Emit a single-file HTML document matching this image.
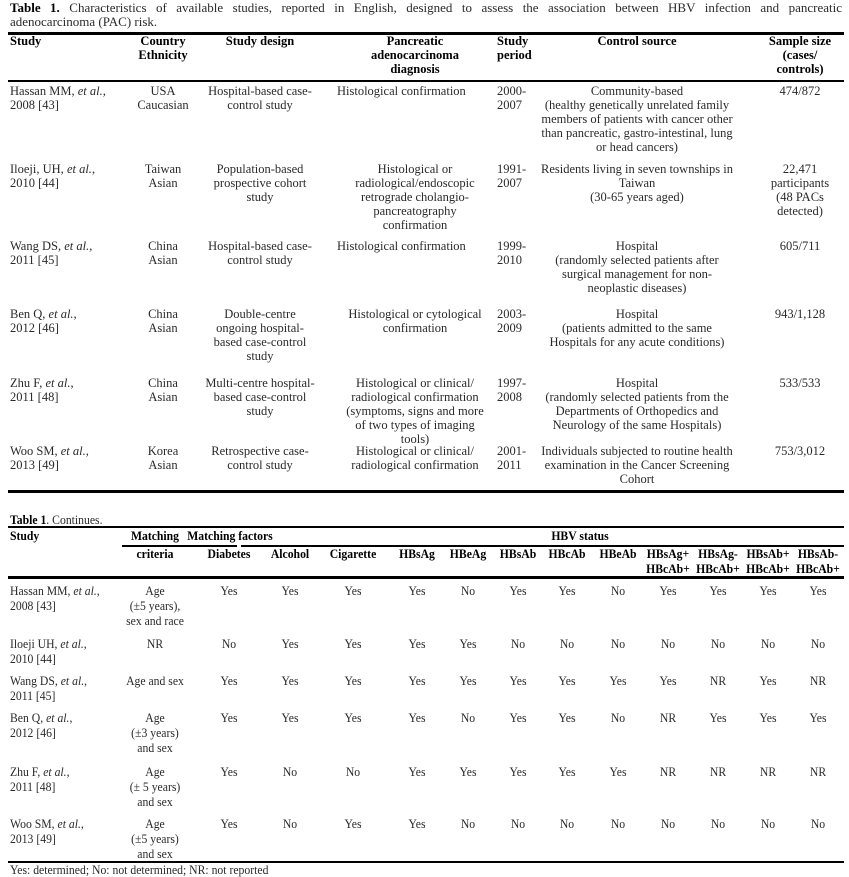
<!DOCTYPE html>
<html><head><meta charset="utf-8"><style>
body{margin:0;width:849px;height:876px;background:#fff;position:relative;overflow:hidden;font-family:"Liberation Serif",serif;color:#2a2a2a}
div{position:absolute;white-space:nowrap}
.t1{font-size:12.5px;line-height:14px}
.t2{font-size:13px;line-height:15px}
.b{font-weight:bold;color:#000}
.c{text-align:center}
.t2.c{transform:scaleX(.9);transform-origin:center}
.t2.l{transform:scaleX(.9);transform-origin:left}
.hr{background:#000;height:2px}
</style></head><body>
<div style="left:10px;top:1px;width:832px;font-size:13px;line-height:14px;white-space:normal;text-align:justify;text-align-last:justify"><b style="color:#000">Table 1.</b> Characteristics of available studies, reported in English, designed to assess the association between HBV infection and pancreatic</div>
<div style="left:10px;top:15px;font-size:13px;line-height:14px">adenocarcinoma (PAC) risk.</div>
<div class="hr" style="left:8px;top:32px;width:836px;height:3px"></div>
<div class="hr" style="left:8px;top:80px;width:836px"></div>
<div class="hr" style="left:8px;top:490px;width:836px;height:3px"></div>

<div class="t1 b" style="left:10px;top:34px">Study</div>
<div class="t1 b c" style="left:113px;width:100px;top:34px">Country<br>Ethnicity</div>
<div class="t1 b c" style="left:195px;width:130px;top:34px">Study design</div>
<div class="t1 b c" style="left:340px;width:150px;top:34px">Pancreatic<br>adenocarcinoma<br>diagnosis</div>
<div class="t1 b" style="left:497px;top:34px">Study<br>period</div>
<div class="t1 b c" style="left:537px;width:200px;top:34px">Control source</div>
<div class="t1 b c" style="left:750px;width:100px;top:34px">Sample size<br>(cases/<br>controls)</div>

<div class="t1" style="left:10px;top:84px">Hassan MM, <i>et al.</i>,<br>2008 [43]</div>
<div class="t1 c" style="left:113px;width:100px;top:84px">USA<br>Caucasian</div>
<div class="t1 c" style="left:195px;width:130px;top:84px">Hospital-based case-<br>control study</div>
<div class="t1" style="left:337px;top:84px">Histological confirmation</div>
<div class="t1" style="left:497px;top:84px">2000-<br>2007</div>
<div class="t1 c" style="left:527px;width:220px;top:84px">Community-based<br>(healthy genetically unrelated family<br>members of patients with cancer other<br>than pancreatic, gastro-intestinal, lung<br>or head cancers)</div>
<div class="t1 c" style="left:750px;width:100px;top:84px">474/872</div>

<div class="t1" style="left:10px;top:162px">Iloeji, UH, <i>et al.</i>,<br>2010 [44]</div>
<div class="t1 c" style="left:113px;width:100px;top:162px">Taiwan<br>Asian</div>
<div class="t1 c" style="left:195px;width:130px;top:162px">Population-based<br>prospective cohort<br>study</div>
<div class="t1 c" style="left:335px;width:160px;top:162px">Histological or<br>radiological/endoscopic<br>retrograde cholangio-<br>pancreatography<br>confirmation</div>
<div class="t1" style="left:497px;top:162px">1991-<br>2007</div>
<div class="t1 c" style="left:527px;width:220px;top:162px">Residents living in seven townships in<br>Taiwan<br>(30-65 years aged)</div>
<div class="t1 c" style="left:750px;width:100px;top:162px">22,471<br>participants<br>(48 PACs<br>detected)</div>

<div class="t1" style="left:10px;top:239px">Wang DS, <i>et al.</i>,<br>2011 [45]</div>
<div class="t1 c" style="left:113px;width:100px;top:239px">China<br>Asian</div>
<div class="t1 c" style="left:195px;width:130px;top:239px">Hospital-based case-<br>control study</div>
<div class="t1" style="left:337px;top:239px">Histological confirmation</div>
<div class="t1" style="left:497px;top:239px">1999-<br>2010</div>
<div class="t1 c" style="left:527px;width:220px;top:239px">Hospital<br>(randomly selected patients after<br>surgical management for non-<br>neoplastic diseases)</div>
<div class="t1 c" style="left:750px;width:100px;top:239px">605/711</div>

<div class="t1" style="left:10px;top:307px">Ben Q, <i>et al.</i>,<br>2012 [46]</div>
<div class="t1 c" style="left:113px;width:100px;top:307px">China<br>Asian</div>
<div class="t1 c" style="left:195px;width:130px;top:307px">Double-centre<br>ongoing hospital-<br>based case-control<br>study</div>
<div class="t1 c" style="left:335px;width:160px;top:307px">Histological or cytological<br>confirmation</div>
<div class="t1" style="left:497px;top:307px">2003-<br>2009</div>
<div class="t1 c" style="left:527px;width:220px;top:307px">Hospital<br>(patients admitted to the same<br>Hospitals for any acute conditions)</div>
<div class="t1 c" style="left:750px;width:100px;top:307px">943/1,128</div>

<div class="t1" style="left:10px;top:376px">Zhu F, <i>et al.</i>,<br>2011 [48]</div>
<div class="t1 c" style="left:113px;width:100px;top:376px">China<br>Asian</div>
<div class="t1 c" style="left:195px;width:130px;top:376px">Multi-centre hospital-<br>based case-control<br>study</div>
<div class="t1 c" style="left:335px;width:160px;top:376px">Histological or clinical/<br>radiological confirmation<br>(symptoms, signs and more<br>of two types of imaging<br>tools)</div>
<div class="t1" style="left:497px;top:376px">1997-<br>2008</div>
<div class="t1 c" style="left:527px;width:220px;top:376px">Hospital<br>(randomly selected patients from the<br>Departments of Orthopedics and<br>Neurology of the same Hospitals)</div>
<div class="t1 c" style="left:750px;width:100px;top:376px">533/533</div>

<div class="t1" style="left:10px;top:444px">Woo SM, <i>et al.</i>,<br>2013 [49]</div>
<div class="t1 c" style="left:113px;width:100px;top:444px">Korea<br>Asian</div>
<div class="t1 c" style="left:195px;width:130px;top:444px">Retrospective case-<br>control study</div>
<div class="t1 c" style="left:335px;width:160px;top:444px">Histological or clinical/<br>radiological confirmation</div>
<div class="t1" style="left:497px;top:444px">2001-<br>2011</div>
<div class="t1 c" style="left:527px;width:220px;top:444px">Individuals subjected to routine health<br>examination in the Cancer Screening<br>Cohort</div>
<div class="t1 c" style="left:750px;width:100px;top:444px">753/3,012</div>

<div class="t2 l" style="left:10px;top:512px"><b style="color:#000">Table 1</b>. Continues.</div>
<div class="hr" style="left:8px;top:526px;width:836px"></div>
<div class="hr" style="left:122px;top:545px;width:115px;height:1.5px"></div>
<div class="hr" style="left:241px;top:545px;width:603px;height:1.5px"></div>
<div class="hr" style="left:8px;top:576px;width:836px;height:3px"></div>
<div class="hr" style="left:8px;top:861px;width:836px;height:1.5px"></div>

<div class="t2 b l" style="left:10px;top:528px">Study</div>
<div class="t2 b c" style="left:105px;width:100px;top:528px">Matching</div>
<div class="t2 b c" style="left:105px;width:100px;top:546px">criteria</div>
<div class="t2 b c" style="left:130px;width:200px;top:528px">Matching factors</div>
<div class="t2 b c" style="left:480px;width:200px;top:528px">HBV status</div>
<div class="t2 b c" style="left:194px;width:70px;top:546px">Diabetes</div>
<div class="t2 b c" style="left:255px;width:70px;top:546px">Alcohol</div>
<div class="t2 b c" style="left:313px;width:80px;top:546px">Cigarette</div>
<div class="t2 b c" style="left:387px;width:60px;top:546px">HBsAg</div>
<div class="t2 b c" style="left:438px;width:60px;top:546px">HBeAg</div>
<div class="t2 b c" style="left:488px;width:60px;top:546px">HBsAb</div>
<div class="t2 b c" style="left:537px;width:60px;top:546px">HBcAb</div>
<div class="t2 b c" style="left:588px;width:60px;top:546px">HBeAb</div>
<div class="t2 b c" style="left:638px;width:60px;top:546px">HBsAg+<br>HBcAb+</div>
<div class="t2 b c" style="left:688px;width:60px;top:546px">HBsAg-<br>HBcAb+</div>
<div class="t2 b c" style="left:738px;width:60px;top:546px">HBsAb+<br>HBcAb+</div>
<div class="t2 b c" style="left:788px;width:60px;top:546px">HBsAb-<br>HBcAb+</div>

<div class="t2 l" style="left:10px;top:583px">Hassan MM, <i>et al.</i>,<br>2008 [43]</div>
<div class="t2 c" style="left:105px;width:100px;top:583px">Age<br>(±5 years),<br>sex and race</div>
<div class="t2 l" style="left:10px;top:636px">Iloeji UH, <i>et al.</i>,<br>2010 [44]</div>
<div class="t2 c" style="left:105px;width:100px;top:636px">NR</div>
<div class="t2 l" style="left:10px;top:673px">Wang DS, <i>et al.</i>,<br>2011 [45]</div>
<div class="t2 c" style="left:105px;width:100px;top:673px">Age and sex</div>
<div class="t2 l" style="left:10px;top:710px">Ben Q, <i>et al.</i>,<br>2012 [46]</div>
<div class="t2 c" style="left:105px;width:100px;top:710px">Age<br>(±3 years)<br>and sex</div>
<div class="t2 l" style="left:10px;top:764px">Zhu F, <i>et al.</i>,<br>2011 [48]</div>
<div class="t2 c" style="left:105px;width:100px;top:764px">Age<br>(± 5 years)<br>and sex</div>
<div class="t2 l" style="left:10px;top:816px">Woo SM, <i>et al.</i>,<br>2013 [49]</div>
<div class="t2 c" style="left:105px;width:100px;top:816px">Age<br>(±5 years)<br>and sex</div>

<div class="t2 c" style="left:199px;width:60px;top:583px">Yes</div><div class="t2 c" style="left:260px;width:60px;top:583px">Yes</div><div class="t2 c" style="left:323px;width:60px;top:583px">Yes</div><div class="t2 c" style="left:387px;width:60px;top:583px">Yes</div><div class="t2 c" style="left:438px;width:60px;top:583px">No</div><div class="t2 c" style="left:488px;width:60px;top:583px">Yes</div><div class="t2 c" style="left:537px;width:60px;top:583px">Yes</div><div class="t2 c" style="left:588px;width:60px;top:583px">No</div><div class="t2 c" style="left:638px;width:60px;top:583px">Yes</div><div class="t2 c" style="left:688px;width:60px;top:583px">Yes</div><div class="t2 c" style="left:738px;width:60px;top:583px">Yes</div><div class="t2 c" style="left:788px;width:60px;top:583px">Yes</div>

<div class="t2 c" style="left:199px;width:60px;top:636px">No</div><div class="t2 c" style="left:260px;width:60px;top:636px">Yes</div><div class="t2 c" style="left:323px;width:60px;top:636px">Yes</div><div class="t2 c" style="left:387px;width:60px;top:636px">Yes</div><div class="t2 c" style="left:438px;width:60px;top:636px">Yes</div><div class="t2 c" style="left:488px;width:60px;top:636px">No</div><div class="t2 c" style="left:537px;width:60px;top:636px">No</div><div class="t2 c" style="left:588px;width:60px;top:636px">No</div><div class="t2 c" style="left:638px;width:60px;top:636px">No</div><div class="t2 c" style="left:688px;width:60px;top:636px">No</div><div class="t2 c" style="left:738px;width:60px;top:636px">No</div><div class="t2 c" style="left:788px;width:60px;top:636px">No</div>

<div class="t2 c" style="left:199px;width:60px;top:673px">Yes</div><div class="t2 c" style="left:260px;width:60px;top:673px">Yes</div><div class="t2 c" style="left:323px;width:60px;top:673px">Yes</div><div class="t2 c" style="left:387px;width:60px;top:673px">Yes</div><div class="t2 c" style="left:438px;width:60px;top:673px">Yes</div><div class="t2 c" style="left:488px;width:60px;top:673px">Yes</div><div class="t2 c" style="left:537px;width:60px;top:673px">Yes</div><div class="t2 c" style="left:588px;width:60px;top:673px">Yes</div><div class="t2 c" style="left:638px;width:60px;top:673px">Yes</div><div class="t2 c" style="left:688px;width:60px;top:673px">NR</div><div class="t2 c" style="left:738px;width:60px;top:673px">Yes</div><div class="t2 c" style="left:788px;width:60px;top:673px">NR</div>

<div class="t2 c" style="left:199px;width:60px;top:710px">Yes</div><div class="t2 c" style="left:260px;width:60px;top:710px">Yes</div><div class="t2 c" style="left:323px;width:60px;top:710px">Yes</div><div class="t2 c" style="left:387px;width:60px;top:710px">Yes</div><div class="t2 c" style="left:438px;width:60px;top:710px">No</div><div class="t2 c" style="left:488px;width:60px;top:710px">Yes</div><div class="t2 c" style="left:537px;width:60px;top:710px">Yes</div><div class="t2 c" style="left:588px;width:60px;top:710px">No</div><div class="t2 c" style="left:638px;width:60px;top:710px">NR</div><div class="t2 c" style="left:688px;width:60px;top:710px">Yes</div><div class="t2 c" style="left:738px;width:60px;top:710px">Yes</div><div class="t2 c" style="left:788px;width:60px;top:710px">Yes</div>

<div class="t2 c" style="left:199px;width:60px;top:764px">Yes</div><div class="t2 c" style="left:260px;width:60px;top:764px">No</div><div class="t2 c" style="left:323px;width:60px;top:764px">No</div><div class="t2 c" style="left:387px;width:60px;top:764px">Yes</div><div class="t2 c" style="left:438px;width:60px;top:764px">Yes</div><div class="t2 c" style="left:488px;width:60px;top:764px">Yes</div><div class="t2 c" style="left:537px;width:60px;top:764px">Yes</div><div class="t2 c" style="left:588px;width:60px;top:764px">Yes</div><div class="t2 c" style="left:638px;width:60px;top:764px">NR</div><div class="t2 c" style="left:688px;width:60px;top:764px">NR</div><div class="t2 c" style="left:738px;width:60px;top:764px">NR</div><div class="t2 c" style="left:788px;width:60px;top:764px">NR</div>

<div class="t2 c" style="left:199px;width:60px;top:816px">Yes</div><div class="t2 c" style="left:260px;width:60px;top:816px">No</div><div class="t2 c" style="left:323px;width:60px;top:816px">Yes</div><div class="t2 c" style="left:387px;width:60px;top:816px">Yes</div><div class="t2 c" style="left:438px;width:60px;top:816px">No</div><div class="t2 c" style="left:488px;width:60px;top:816px">No</div><div class="t2 c" style="left:537px;width:60px;top:816px">No</div><div class="t2 c" style="left:588px;width:60px;top:816px">No</div><div class="t2 c" style="left:638px;width:60px;top:816px">No</div><div class="t2 c" style="left:688px;width:60px;top:816px">No</div><div class="t2 c" style="left:738px;width:60px;top:816px">No</div><div class="t2 c" style="left:788px;width:60px;top:816px">No</div>

<div class="t2 l" style="left:10px;top:862px">Yes: determined; No: not determined; NR: not reported</div>
</body></html>
